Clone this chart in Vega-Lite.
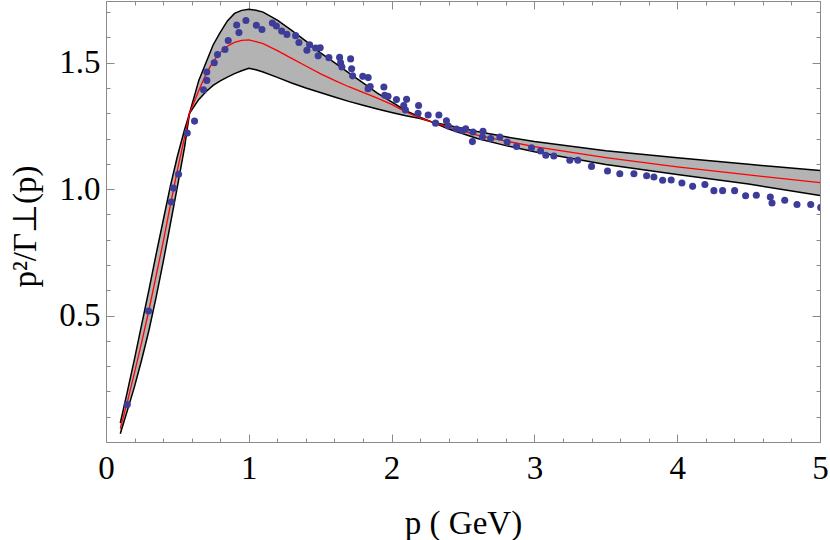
{
  "$schema": "https://vega.github.io/schema/vega-lite/v6.json",
  "width": 714,
  "height": 441,
  "autosize": {"type": "none"},
  "padding": {"left": 106, "top": 1, "right": 10, "bottom": 98},
  "background": "white",
  "config": {
    "view": {"stroke": "#8a8a8a", "strokeWidth": 1},
    "axis": {
      "grid": false,
      "domain": false,
      "tickColor": "#8a8a8a",
      "tickWidth": 1,
      "labelFont": "Times New Roman",
      "labelFontSize": 33,
      "labelColor": "black",
      "titleFont": "Times New Roman",
      "titleFontSize": 33,
      "titleFontWeight": "normal",
      "titleColor": "black",
      "labelFlush": false,
      "labelOverlap": false,
      "labelBound": false
    }
  },
  "datasets": {
    "curves": [
      {"p": 0.1, "A": 0.033, "B": 0.075, "R": 0.053},
      {"p": 0.15, "A": 0.125, "B": 0.2, "R": 0.16},
      {"p": 0.2, "A": 0.22, "B": 0.33, "R": 0.275},
      {"p": 0.25, "A": 0.325, "B": 0.465, "R": 0.395},
      {"p": 0.3, "A": 0.44, "B": 0.6, "R": 0.52},
      {"p": 0.35, "A": 0.57, "B": 0.74, "R": 0.655},
      {"p": 0.4, "A": 0.71, "B": 0.875, "R": 0.79},
      {"p": 0.45, "A": 0.86, "B": 1.01, "R": 0.935},
      {"p": 0.5, "A": 1.01, "B": 1.13, "R": 1.075},
      {"p": 0.55, "A": 1.165, "B": 1.235, "R": 1.205},
      {"p": 0.585, "A": 1.3, "B": 1.3, "R": 1.3},
      {"p": 0.65, "A": 1.43, "B": 1.355, "R": 1.39},
      {"p": 0.7, "A": 1.5, "B": 1.385, "R": 1.455},
      {"p": 0.75, "A": 1.57, "B": 1.41, "R": 1.505},
      {"p": 0.8, "A": 1.62, "B": 1.428, "R": 1.54},
      {"p": 0.85, "A": 1.665, "B": 1.443, "R": 1.565},
      {"p": 0.9, "A": 1.695, "B": 1.457, "R": 1.58},
      {"p": 0.95, "A": 1.707, "B": 1.468, "R": 1.588},
      {"p": 1.0, "A": 1.711, "B": 1.478, "R": 1.59},
      {"p": 1.05, "A": 1.707, "B": 1.472, "R": 1.583},
      {"p": 1.1, "A": 1.7, "B": 1.463, "R": 1.575},
      {"p": 1.2, "A": 1.668, "B": 1.442, "R": 1.548},
      {"p": 1.3, "A": 1.628, "B": 1.42, "R": 1.517},
      {"p": 1.4, "A": 1.585, "B": 1.4, "R": 1.487},
      {"p": 1.5, "A": 1.54, "B": 1.382, "R": 1.457},
      {"p": 1.6, "A": 1.5, "B": 1.364, "R": 1.43},
      {"p": 1.7, "A": 1.46, "B": 1.347, "R": 1.405},
      {"p": 1.8, "A": 1.42, "B": 1.332, "R": 1.383},
      {"p": 1.9, "A": 1.38, "B": 1.317, "R": 1.36},
      {"p": 2.0, "A": 1.345, "B": 1.303, "R": 1.335},
      {"p": 2.1, "A": 1.31, "B": 1.29, "R": 1.305},
      {"p": 2.2, "A": 1.285, "B": 1.279, "R": 1.282},
      {"p": 2.28, "A": 1.266, "B": 1.266, "R": 1.266},
      {"p": 2.4, "A": 1.238, "B": 1.252, "R": 1.245},
      {"p": 2.6, "A": 1.2, "B": 1.228, "R": 1.214},
      {"p": 2.8, "A": 1.172, "B": 1.207, "R": 1.19},
      {"p": 3.0, "A": 1.148, "B": 1.188, "R": 1.168},
      {"p": 3.5, "A": 1.097, "B": 1.152, "R": 1.125},
      {"p": 4.0, "A": 1.058, "B": 1.124, "R": 1.088},
      {"p": 4.5, "A": 1.02, "B": 1.098, "R": 1.056},
      {"p": 5.0, "A": 0.975, "B": 1.074, "R": 1.026}
    ],
    "dots": [
      {"p": 0.149, "v": 0.148}, {"p": 0.298, "v": 0.518}, {"p": 0.457, "v": 0.949},
      {"p": 0.473, "v": 1.004}, {"p": 0.508, "v": 1.059}, {"p": 0.569, "v": 1.222},
      {"p": 0.62, "v": 1.269}, {"p": 0.683, "v": 1.393}, {"p": 0.706, "v": 1.43},
      {"p": 0.706, "v": 1.463}, {"p": 0.758, "v": 1.5}, {"p": 0.781, "v": 1.532},
      {"p": 0.833, "v": 1.552}, {"p": 0.856, "v": 1.588}, {"p": 0.931, "v": 1.619},
      {"p": 0.915, "v": 1.649}, {"p": 0.98, "v": 1.667}, {"p": 1.053, "v": 1.648},
      {"p": 1.092, "v": 1.631}, {"p": 1.165, "v": 1.657}, {"p": 1.193, "v": 1.645},
      {"p": 1.23, "v": 1.625}, {"p": 1.267, "v": 1.612}, {"p": 1.328, "v": 1.607},
      {"p": 1.351, "v": 1.58}, {"p": 1.407, "v": 1.549}, {"p": 1.426, "v": 1.571},
      {"p": 1.468, "v": 1.558}, {"p": 1.5, "v": 1.559}, {"p": 1.486, "v": 1.527},
      {"p": 1.561, "v": 1.52}, {"p": 1.636, "v": 1.521}, {"p": 1.643, "v": 1.5},
      {"p": 1.652, "v": 1.483}, {"p": 1.713, "v": 1.515}, {"p": 1.72, "v": 1.476},
      {"p": 1.727, "v": 1.448}, {"p": 1.798, "v": 1.446}, {"p": 1.836, "v": 1.441},
      {"p": 1.85, "v": 1.406}, {"p": 1.835, "v": 1.397}, {"p": 1.946, "v": 1.404},
      {"p": 1.952, "v": 1.371}, {"p": 1.975, "v": 1.367}, {"p": 2.034, "v": 1.354},
      {"p": 2.105, "v": 1.355}, {"p": 2.085, "v": 1.331}, {"p": 2.097, "v": 1.313},
      {"p": 2.189, "v": 1.331}, {"p": 2.185, "v": 1.3}, {"p": 2.256, "v": 1.293},
      {"p": 2.331, "v": 1.293}, {"p": 2.308, "v": 1.261}, {"p": 2.384, "v": 1.27},
      {"p": 2.397, "v": 1.25}, {"p": 2.454, "v": 1.238}, {"p": 2.496, "v": 1.232},
      {"p": 2.519, "v": 1.239}, {"p": 2.57, "v": 1.226}, {"p": 2.566, "v": 1.188},
      {"p": 2.64, "v": 1.229}, {"p": 2.636, "v": 1.206}, {"p": 2.694, "v": 1.2},
      {"p": 2.758, "v": 1.206}, {"p": 2.809, "v": 1.186}, {"p": 2.875, "v": 1.169},
      {"p": 2.98, "v": 1.164}, {"p": 3.043, "v": 1.151}, {"p": 3.08, "v": 1.134},
      {"p": 3.136, "v": 1.131}, {"p": 3.248, "v": 1.114}, {"p": 3.304, "v": 1.114},
      {"p": 3.4, "v": 1.09}, {"p": 3.512, "v": 1.072}, {"p": 3.598, "v": 1.061},
      {"p": 3.697, "v": 1.061}, {"p": 3.786, "v": 1.053}, {"p": 3.837, "v": 1.048},
      {"p": 3.898, "v": 1.035}, {"p": 3.958, "v": 1.036}, {"p": 4.033, "v": 1.024},
      {"p": 4.108, "v": 1.011}, {"p": 4.194, "v": 1.018}, {"p": 4.257, "v": 0.994},
      {"p": 4.318, "v": 0.994}, {"p": 4.402, "v": 0.994}, {"p": 4.479, "v": 0.974},
      {"p": 4.554, "v": 0.976}, {"p": 4.652, "v": 0.969}, {"p": 4.664, "v": 0.945},
      {"p": 4.753, "v": 0.956}, {"p": 4.839, "v": 0.939}, {"p": 4.935, "v": 0.939},
      {"p": 5.005, "v": 0.927}
    ]
  },
  "resolve": {"axis": {"x": "independent", "y": "independent"}},
  "layer": [
    {
      "data": {"name": "curves"},
      "mark": {"type": "area", "color": "#b3b3b3", "opacity": 1},
      "encoding": {
        "x": {"field": "p", "type": "quantitative",
              "scale": {"domain": [0, 5], "nice": false, "zero": false},
              "axis": {"orient": "bottom", "values": [0, 1, 2, 3, 4, 5], "tickSize": -8,
                       "labelPadding": 18, "title": "p ( GeV)",
                       "titleBaseline": "alphabetic", "titleY": 91, "titleX": 357}},
        "y": {"field": "A", "type": "quantitative",
              "scale": {"domain": [0, 1.744], "nice": false, "zero": false},
              "axis": {"orient": "left", "values": [0.5, 1.0, 1.5], "format": ".1f", "tickSize": -8,
                       "labelPadding": 14, "title": "p²/Γ⊥(p)",
                       "titleAngle": -90, "titleBaseline": "alphabetic", "titleAlign": "center",
                       "titleX": -71, "titleY": 225}},
        "y2": {"field": "B"}
      }
    },
    {
      "data": {"name": "curves"},
      "mark": {"type": "line", "color": "black", "strokeWidth": 1.5},
      "encoding": {
        "x": {"field": "p", "type": "quantitative",
              "axis": {"orient": "bottom", "values": [0.2, 0.4, 0.6, 0.8, 1.2, 1.4, 1.6, 1.8, 2.2, 2.4, 2.6, 2.8, 3.2, 3.4, 3.6, 3.8, 4.2, 4.4, 4.6, 4.8],
                       "tickSize": -4, "labels": false, "title": null}},
        "y": {"field": "A", "type": "quantitative",
              "axis": {"orient": "left", "values": [0.1, 0.2, 0.3, 0.4, 0.6, 0.7, 0.8, 0.9, 1.1, 1.2, 1.3, 1.4, 1.6, 1.7],
                       "tickSize": -4, "labels": false, "title": null}}
      }
    },
    {
      "data": {"name": "curves"},
      "mark": {"type": "line", "color": "black", "strokeWidth": 1.5},
      "encoding": {
        "x": {"field": "p", "type": "quantitative",
              "axis": {"orient": "top", "values": [0, 1, 2, 3, 4, 5], "tickSize": -8, "labels": false, "title": null}},
        "y": {"field": "B", "type": "quantitative",
              "axis": {"orient": "right", "values": [0.5, 1.0, 1.5], "tickSize": -8, "labels": false, "title": null}}
      }
    },
    {
      "data": {"name": "curves"},
      "mark": {"type": "line", "color": "#ff0000", "strokeWidth": 1.3},
      "encoding": {
        "x": {"field": "p", "type": "quantitative",
              "axis": {"orient": "top", "values": [0.2, 0.4, 0.6, 0.8, 1.2, 1.4, 1.6, 1.8, 2.2, 2.4, 2.6, 2.8, 3.2, 3.4, 3.6, 3.8, 4.2, 4.4, 4.6, 4.8],
                       "tickSize": -4, "labels": false, "title": null}},
        "y": {"field": "R", "type": "quantitative",
              "axis": {"orient": "right", "values": [0.1, 0.2, 0.3, 0.4, 0.6, 0.7, 0.8, 0.9, 1.1, 1.2, 1.3, 1.4, 1.6, 1.7],
                       "tickSize": -4, "labels": false, "title": null}}
      }
    },
    {
      "data": {"name": "dots"},
      "mark": {"type": "circle", "color": "#3d3d99", "opacity": 1, "size": 50, "clip": true},
      "encoding": {
        "x": {"field": "p", "type": "quantitative", "axis": null},
        "y": {"field": "v", "type": "quantitative", "axis": null}
      }
    }
  ]
}
